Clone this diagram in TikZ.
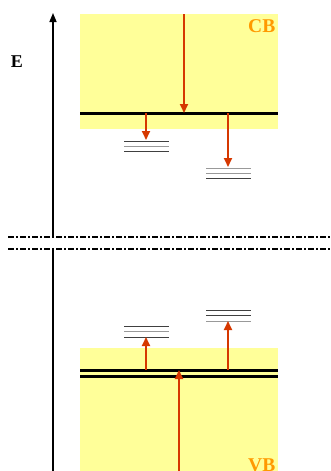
\documentclass[tikz,border=0pt]{standalone}
\usepackage{fontspec}
\setmainfont{Liberation Serif}
\usetikzlibrary{arrows.meta}
\definecolor{bandyellow}{RGB}{255,255,153}
\definecolor{arrred}{RGB}{214,56,0}
\definecolor{lblorange}{RGB}{255,153,0}
\tikzset{
  band/.style={fill=bandyellow,draw=none},
  edge/.style={line width=3pt,black},
  trans/.style={line width=1.8pt,arrred,-{Triangle[width=8pt,length=9pt]}},
  lvl/.style={line width=1pt,black!75},
  lvlg/.style={line width=1pt,black!40},
  brk/.style={line width=1.3pt,dash pattern=on 6pt off 2pt on 2pt off 2pt},
  lbl/.style={font=\bfseries\fontsize{19.5}{19.5}\selectfont,lblorange,inner sep=0pt}
}
\begin{document}
\begin{tikzpicture}[x=1pt,y=-1pt]
\useasboundingbox (0,0) rectangle (330,471);
% bands
\fill[band] (80,14) rectangle (278,129);
\fill[band] (80,348) rectangle (278,471);
\node[lbl,anchor=base east] (cb) at (275.5,32.7) {CB};
\node[lbl,anchor=base east] (vb) at (275.5,471.5) {VB};
% axis
\coordinate (ax0) at (53,471);
\coordinate (ax1) at (53,249);
\coordinate (ax2) at (53,237);
\coordinate (ax3) at (53,13);
\draw[line width=1.5pt] (ax0) -- (ax1);
\draw[line width=1.5pt,-{Triangle[width=7pt,length=9pt]}] (ax2) -- (ax3);
\node[font=\bfseries\fontsize{18}{18}\selectfont,inner sep=0pt,anchor=base] (E) at (17,67) {E};
% break lines
\coordinate (b1l) at (8,237); \coordinate (b1r) at (330,237);
\coordinate (b2l) at (8,249); \coordinate (b2r) at (330,249);
\draw[brk] (b1l) -- (b1r);
\draw[brk] (b2l) -- (b2r);
% band edges
\coordinate (cel) at (80,113); \coordinate (cer) at (278,113);
\draw[edge] (cel) -- (cer);
\coordinate (v1l) at (80,370); \coordinate (v1r) at (278,370);
\coordinate (v2l) at (80,376); \coordinate (v2r) at (278,376);
\draw[edge] (v1l) -- (v1r);
\draw[edge] (v2l) -- (v2r);
% trap levels (CB side)
\draw[lvl] (124,141) -- (169,141);
\draw[lvlg] (124,146) -- (169,146);
\draw[lvl] (124,151) -- (169,151);
\draw[lvlg] (206,168) -- (251,168);
\draw[lvlg] (206,173) -- (251,173);
\draw[lvl] (206,178) -- (251,178);
% trap levels (VB side)
\draw[lvl] (124,326) -- (169,326);
\draw[lvlg] (124,331.5) -- (169,331.5);
\draw[lvl] (124,337) -- (169,337);
\draw[lvl] (206,310) -- (251,310);
\draw[lvl] (206,315.5) -- (251,315.5);
\draw[lvlg] (206,321) -- (251,321);
% transitions
\coordinate (t1a) at (184,14); \coordinate (t1b) at (184,113);
\draw[trans] (t1a) -- (t1b);
\coordinate (t2a) at (146,113); \coordinate (t2b) at (146,140);
\draw[trans] (t2a) -- (t2b);
\coordinate (t3a) at (228,113); \coordinate (t3b) at (228,167);
\draw[trans] (t3a) -- (t3b);
\coordinate (t4a) at (146,370); \coordinate (t4b) at (146,337);
\draw[trans] (t4a) -- (t4b);
\coordinate (t5a) at (228,370); \coordinate (t5b) at (228,321);
\draw[trans] (t5a) -- (t5b);
\coordinate (t6a) at (179,471); \coordinate (t6b) at (179,370);
\draw[trans] (t6a) -- (t6b);
\end{tikzpicture}
\end{document}
